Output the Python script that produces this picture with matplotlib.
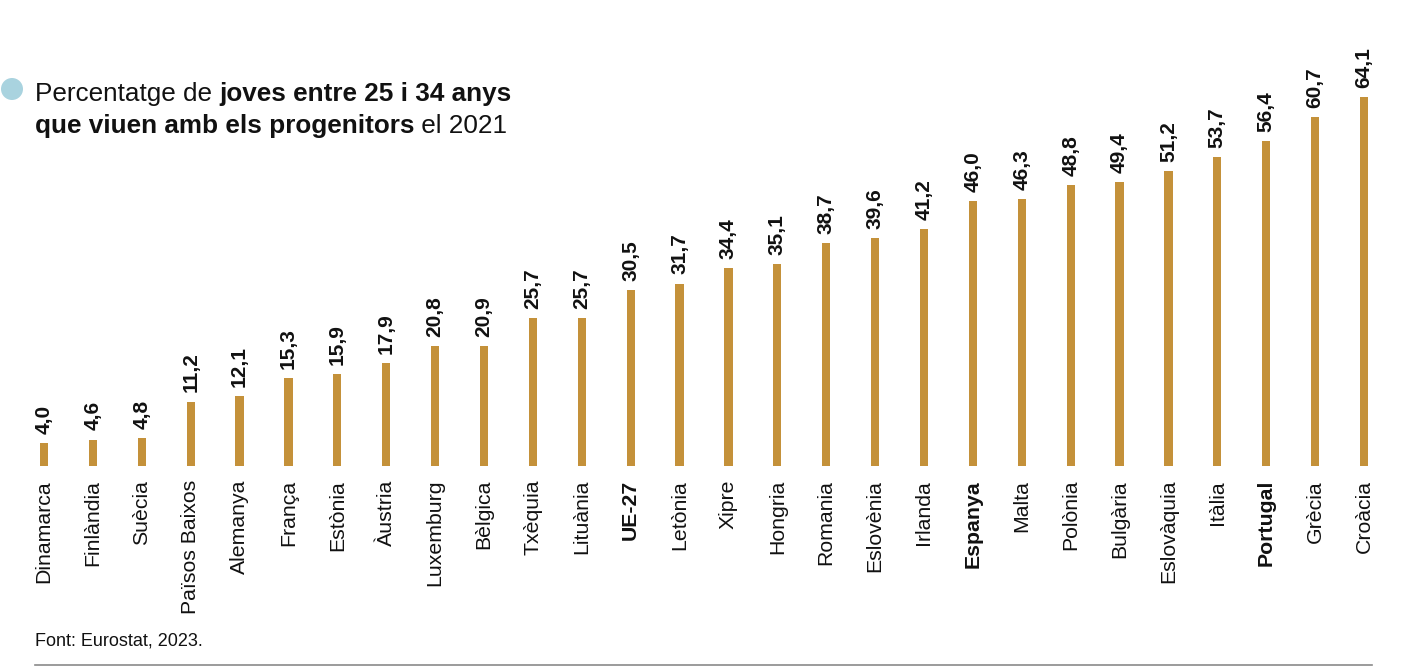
import matplotlib.pyplot as plt
from matplotlib.patches import Ellipse
from matplotlib.lines import Line2D

plt.rcParams['font.family'] = ['Liberation Sans', 'DejaVu Sans']

# dades
paisos = ['Dinamarca', 'Finlàndia', 'Suècia', 'Països Baixos', 'Alemanya', 'França',
          'Estònia', 'Àustria', 'Luxemburg', 'Bèlgica', 'Txèquia', 'Lituània', 'UE-27',
          'Letònia', 'Xipre', 'Hongria', 'Romania', 'Eslovènia', 'Irlanda', 'Espanya',
          'Malta', 'Polònia', 'Bulgària', 'Eslovàquia', 'Itàlia', 'Portugal', 'Grècia',
          'Croàcia']
valors = [4.0, 4.6, 4.8, 11.2, 12.1, 15.3, 15.9, 17.9, 20.8, 20.9, 25.7, 25.7, 30.5,
          31.7, 34.4, 35.1, 38.7, 39.6, 41.2, 46.0, 46.3, 48.8, 49.4, 51.2, 53.7, 56.4,
          60.7, 64.1]
destacats = ['UE-27', 'Espanya', 'Portugal']

W, H = 1404, 668
fig = plt.figure(figsize=(W / 100, H / 100), dpi=100)

# eixos: barra 0 a x=44px, barra 27 a x=1364px, base a y=466px
pas = (1364 - 44) / 27
esq = 44 - pas / 2
ymax = 70
alt_px = (466 - 97) / 64.1 * ymax
ax = fig.add_axes([esq / W, 1 - 466 / H, pas * 28 / W, alt_px / H])

x = list(range(len(paisos)))
ax.bar(x, valors, width=0.17, color='#C4913A')
ax.set_xlim(-0.5, len(paisos) - 0.5)
ax.set_ylim(0, ymax)
ax.axis('off')

for i, (p, v) in enumerate(zip(paisos, valors)):
    ax.annotate(f'{v:.1f}'.replace('.', ','), (i, v), xytext=(0, 6.5),
                textcoords='offset points', rotation=90, ha='center', va='bottom',
                fontsize=15, fontweight='bold', color='#111111')
    ax.annotate(p, (i, 0), xytext=(0, -10), textcoords='offset points',
                rotation=90, ha='center', va='top', fontsize=15.3,
                fontweight='bold' if p in destacats else 'normal', color='#111111')

# títol amb parts en negreta
linies = [
    [('Percentatge de ', 'normal'), ('joves entre 25 i 34 anys', 'bold')],
    [('que viuen amb els progenitors', 'bold'), (' el 2021', 'normal')],
]
renderer = fig.canvas.get_renderer()
y_base = [1 - 101 / H, 1 - 133 / H]
for linia, yb in zip(linies, y_base):
    xpos = 35 / W
    for txt, pes in linia:
        t = fig.text(xpos, yb, txt, fontsize=18.8, fontweight=pes, color='#111111',
                     ha='left', va='baseline')
        bb = t.get_window_extent(renderer=renderer)
        xpos += bb.width / W

fig.patches.append(Ellipse((12 / W, 1 - 89 / H), 22 / W, 22 / H,
                           transform=fig.transFigure, color='#A9D3DF', ec='none'))

fig.text(35 / W, 1 - 641 / H, 'Font: Eurostat, 2023.', fontsize=13, color='#111111',
         va='center', ha='left')
fig.lines.append(Line2D([35 / W, 1372 / W], [1 - 665 / H, 1 - 665 / H],
                        transform=fig.transFigure, color='#8a8a8a', lw=1.2))

fig.savefig('out.png', dpi=100)
